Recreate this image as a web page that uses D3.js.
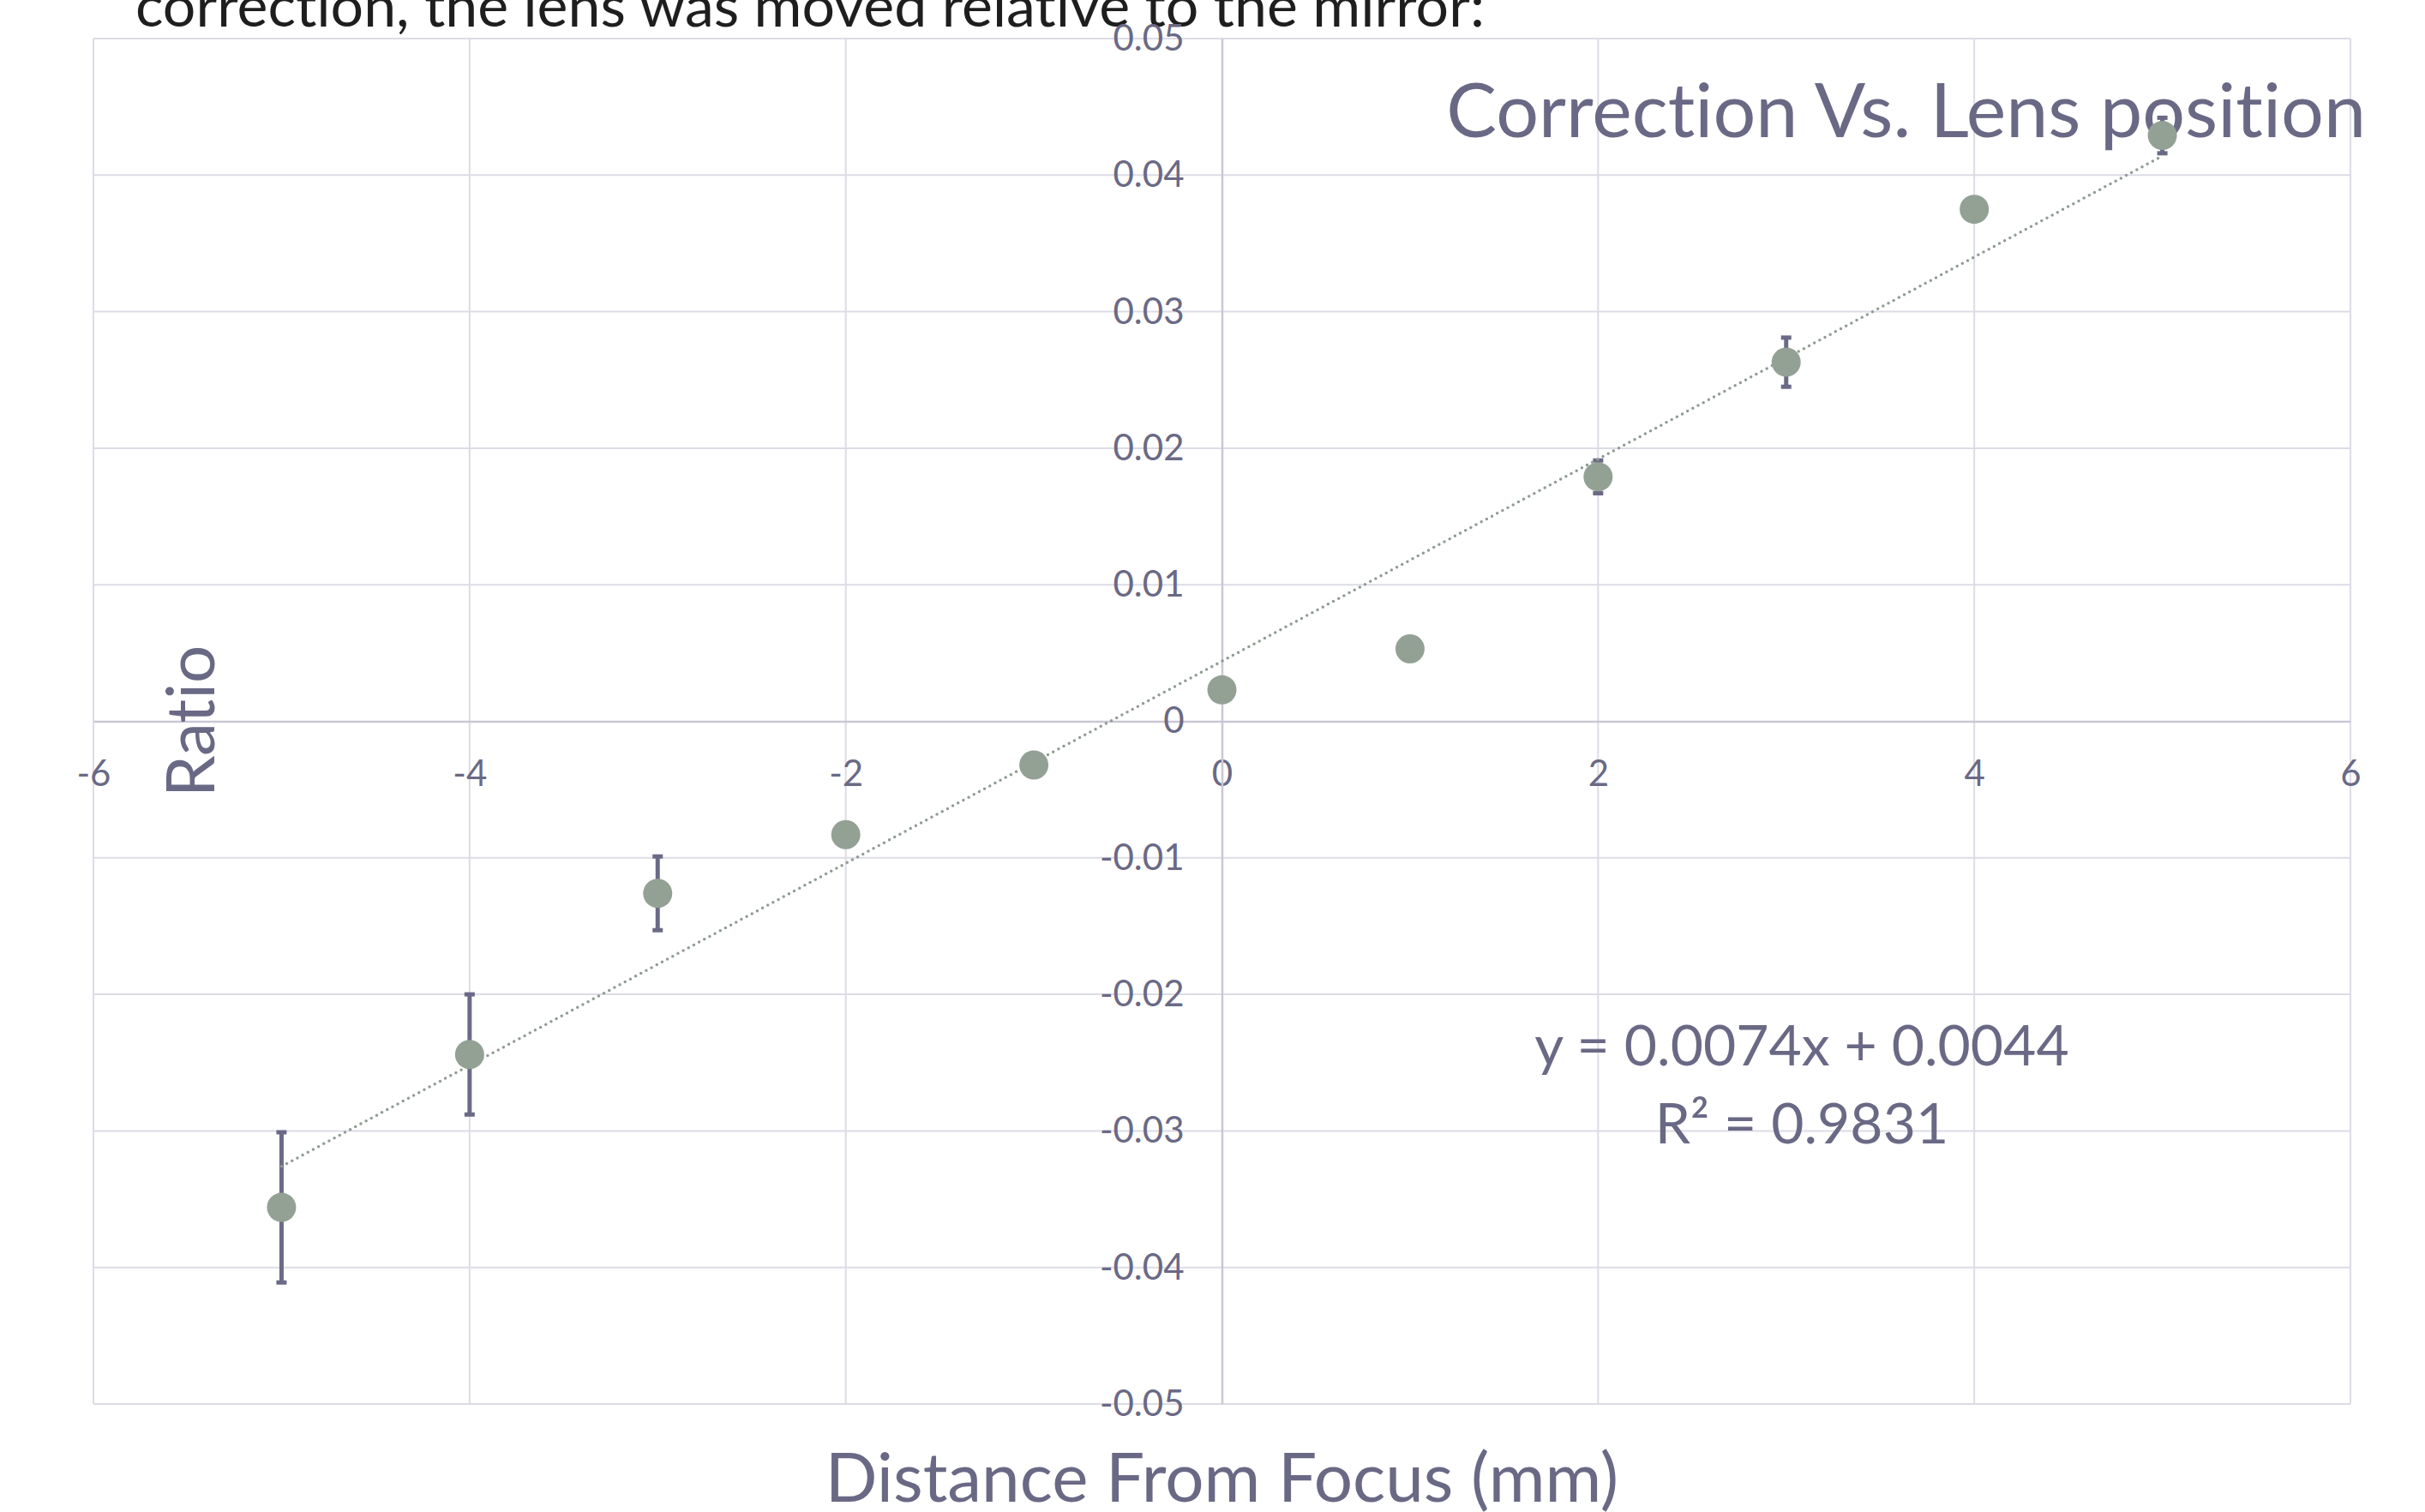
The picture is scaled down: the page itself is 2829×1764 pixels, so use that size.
<!DOCTYPE html>
<html>
<head>
<meta charset="utf-8">
<script src="https://cdn.jsdelivr.net/npm/d3@7"></script>
<style>
  html, body { margin: 0; padding: 0; background: #fff; }
  svg { display: block; font-family: Lato, "Open Sans", sans-serif; font-variant-ligatures: none; }
</style>
</head>
<body>
<svg width="2829" height="1764"></svg>
<script>
// distance from focus (mm)
var distance = [-5, -4, -3, -2, -1, 0, 1, 2, 3, 4, 5];
// measured correction ratio
var ratio = [-0.0356, -0.0244, -0.0126, -0.0083, -0.0032, 0.0023, 0.0053, 0.0179, 0.0263, 0.0375, 0.0429];
// error bar half-widths
var ratioErr = [0.0055, 0.0044, 0.0027, 0.0005, 0.0005, 0.0005, 0.0005, 0.0012, 0.0018, 0.0005, 0.0013];

var xTicks = [-6, -4, -2, 0, 2, 4, 6];
var yTicks = [-0.05, -0.04, -0.03, -0.02, -0.01, 0, 0.01, 0.02, 0.03, 0.04, 0.05];

// linear trendline shown on the chart
var slope = 0.0074;
var intercept = 0.0044;
var r2 = 0.9831;

var textColor = '#6a6985';
var gridColor = '#dddbe5';
var axisColor = '#c9c7d5';
var markerColor = '#93a195';

var svg = d3.select('svg');

var x = d3.scaleLinear().domain([-6, 6]).range([109, 2742]);
var y = d3.scaleLinear().domain([-0.05, 0.05]).range([1638, 45]);

var rows = distance.map(function (d, i) {
    return { x: d, y: ratio[i], e: ratioErr[i] };
});

// cut-off text from the page above the chart
svg.append('text')
    .attr('x', 158)
    .attr('y', 31)
    .attr('font-size', 68)
    .attr('fill', '#1e1e1e')
    .text('correction, the lens was moved relative to the mirror:');

// grid
svg.append('g').selectAll('line')
    .data(xTicks.filter(function (d) { return d !== 0; }))
    .enter().append('line')
    .attr('x1', function (d) { return x(d); })
    .attr('x2', function (d) { return x(d); })
    .attr('y1', y(0.05))
    .attr('y2', y(-0.05))
    .attr('stroke', gridColor)
    .attr('stroke-width', 2);

svg.append('g').selectAll('line')
    .data(yTicks.filter(function (d) { return d !== 0; }))
    .enter().append('line')
    .attr('x1', x(-6))
    .attr('x2', x(6))
    .attr('y1', function (d) { return y(d); })
    .attr('y2', function (d) { return y(d); })
    .attr('stroke', gridColor)
    .attr('stroke-width', 2);

// title (sits behind the data)
svg.append('text')
    .attr('x', 2760)
    .attr('y', 160)
    .attr('text-anchor', 'end')
    .attr('font-size', 88)
    .attr('fill', textColor)
    .text('Correction Vs. Lens position');

// axes crossing at zero
var xAxis = d3.axisBottom(x)
    .tickValues(xTicks)
    .tickSize(0)
    .tickPadding(46)
    .tickFormat(function (d) { return String(d); });

var gx = svg.append('g')
    .attr('transform', 'translate(0,' + y(0) + ')')
    .call(xAxis);
gx.select('.domain').attr('stroke', axisColor).attr('stroke-width', 2.5);
gx.selectAll('text')
    .attr('font-size', 42)
    .attr('font-family', 'Lato')
    .attr('fill', textColor);

var yAxis = d3.axisLeft(y)
    .tickValues(yTicks)
    .tickSize(0)
    .tickPadding(44)
    .tickFormat(function (d) { return d === 0 ? '0' : d.toFixed(2); });

var gy = svg.append('g')
    .attr('transform', 'translate(' + x(0) + ',0)')
    .call(yAxis);
gy.select('.domain').attr('stroke', axisColor).attr('stroke-width', 2.5);
gy.selectAll('text')
    .attr('font-size', 42)
    .attr('font-family', 'Lato')
    .attr('fill', textColor);

// error bars
var bars = svg.append('g').selectAll('g')
    .data(rows)
    .enter().append('g')
    .attr('stroke', '#6b6a86');

bars.append('line')
    .attr('x1', function (d) { return x(d.x); })
    .attr('x2', function (d) { return x(d.x); })
    .attr('y1', function (d) { return y(d.y + d.e); })
    .attr('y2', function (d) { return y(d.y - d.e); })
    .attr('stroke-width', 5);

bars.selectAll('.cap')
    .data(function (d) { return [[d.x, d.y + d.e], [d.x, d.y - d.e]]; })
    .enter().append('line')
    .attr('class', 'cap')
    .attr('x1', function (d) { return x(d[0]) - 6; })
    .attr('x2', function (d) { return x(d[0]) + 6; })
    .attr('y1', function (d) { return y(d[1]); })
    .attr('y2', function (d) { return y(d[1]); })
    .attr('stroke-width', 5);

// trendline
var trend = d3.extent(distance).map(function (d) { return [d, slope * d + intercept]; });
svg.append('path')
    .datum(trend)
    .attr('d', d3.line()
        .x(function (d) { return x(d[0]); })
        .y(function (d) { return y(d[1]); }))
    .attr('fill', 'none')
    .attr('stroke', '#8f9c92')
    .attr('stroke-width', 3.5)
    .attr('stroke-linecap', 'round')
    .attr('stroke-dasharray', '0 7');

// markers
svg.append('g').selectAll('circle')
    .data(rows)
    .enter().append('circle')
    .attr('cx', function (d) { return x(d.x); })
    .attr('cy', function (d) { return y(d.y); })
    .attr('r', 17)
    .attr('fill', markerColor);

// trendline label
var eq = svg.append('text')
    .attr('text-anchor', 'middle')
    .attr('font-size', 66)
    .attr('fill', textColor);
eq.append('tspan')
    .attr('x', 2102)
    .attr('y', 1243)
    .text('y = ' + slope.toFixed(4) + 'x + ' + intercept.toFixed(4));
eq.append('tspan')
    .attr('x', 2102)
    .attr('y', 1334)
    .text('R² = ' + r2.toFixed(4));

// axis titles
svg.append('text')
    .attr('x', x(0))
    .attr('y', 1752)
    .attr('text-anchor', 'middle')
    .attr('font-size', 80)
    .attr('fill', textColor)
    .text('Distance From Focus (mm)');

svg.append('text')
    .attr('transform', 'translate(250,' + y(0) + ') rotate(-90)')
    .attr('text-anchor', 'middle')
    .attr('font-size', 78)
    .attr('fill', textColor)
    .text('Ratio');
</script>
</body>
</html>
